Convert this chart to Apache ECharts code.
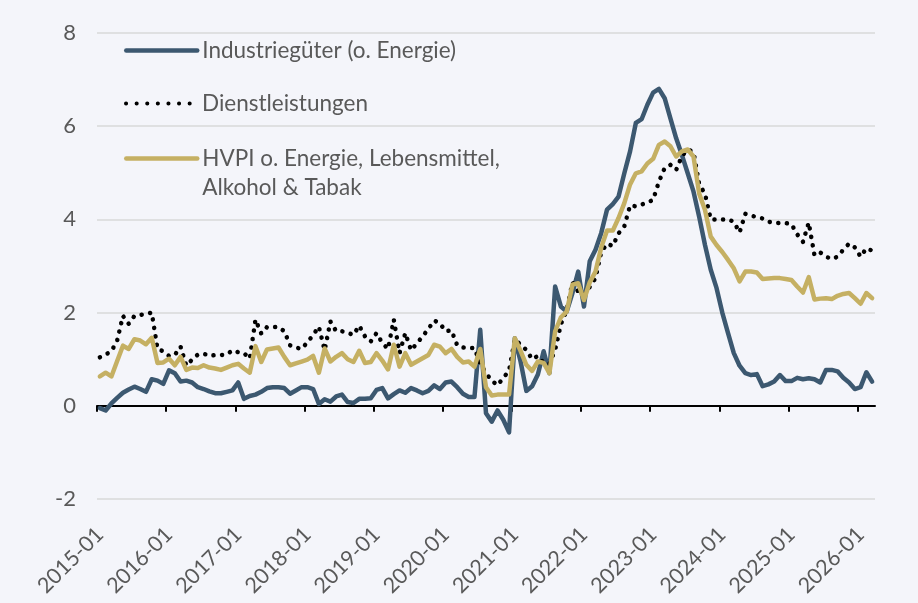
<!DOCTYPE html>
<html>
<head>
<meta charset="utf-8">
<script src="https://cdn.jsdelivr.net/npm/echarts@6/dist/echarts.min.js"></script>
<style>
html, body { margin: 0; padding: 0; background: #F4F5FA; }
#chart { width: 918px; height: 603px; }
</style>
</head>
<body>
<div id="chart"></div>
<script>
// Monthly categories 2015-01 .. 2026-03
const months = [];
for (let y = 2015; y <= 2026; y++) {
  for (let m = 1; m <= 12; m++) {
    if (y === 2026 && m > 3) break;
    months.push(y + '-' + String(m).padStart(2, '0'));
  }
}
// tick marks at the start of every year (category boundaries)
const yearTickPositions = [];
months.forEach(function (m, i) { if (m.slice(5) === '01') yearTickPositions.push(i); });

const seriesNames = [
  'Industriegüter (o. Energie)',
  'Dienstleistungen',
  'HVPI o. Energie, Lebensmittel,\nAlkohol & Tabak'
];

const yTicks = [-2, 0, 2, 4, 6, 8];

// Industriegüter (o. Energie), % y/y
const industrialGoods = [
  -0.05, -0.1, 0.05, 0.17, 0.28, 0.35, 0.41, 0.36, 0.3, 0.57, 0.54, 0.47,
  0.76, 0.7, 0.52, 0.54, 0.5, 0.4, 0.36, 0.31, 0.27, 0.27, 0.3, 0.33,
  0.5, 0.15, 0.21, 0.24, 0.3, 0.38, 0.4, 0.4, 0.38, 0.26, 0.33, 0.4,
  0.4, 0.36, 0.04, 0.14, 0.09, 0.2, 0.24, 0.08, 0.06, 0.15, 0.15, 0.16,
  0.34, 0.38, 0.16, 0.25, 0.33, 0.28, 0.38, 0.33, 0.27, 0.32, 0.44, 0.36,
  0.5, 0.52, 0.4, 0.26, 0.19, 0.19, 1.63, -0.16, -0.34, -0.1, -0.3, -0.57,
  1.45, 0.95, 0.32, 0.42, 0.67, 1.17, 0.7, 2.56, 2.13, 2.02, 2.42, 2.88,
  2.13, 3.1, 3.35, 3.71, 4.21, 4.33, 4.49, 4.99, 5.46, 6.07, 6.15, 6.46,
  6.72, 6.8, 6.6, 6.17, 5.74, 5.38, 4.99, 4.6, 4.05, 3.45, 2.92, 2.53,
  2.0, 1.56, 1.13, 0.86, 0.7, 0.66, 0.68, 0.42, 0.46, 0.52, 0.66, 0.53,
  0.53, 0.6, 0.57, 0.59, 0.57, 0.5, 0.77, 0.77, 0.74, 0.6, 0.5, 0.36,
  0.4, 0.72, 0.52
];

// Dienstleistungen, % y/y
const services = [
  1.04, 1.1, 1.17, 1.4, 1.93, 1.76, 1.93, 1.95, 1.97, 2.0, 1.22, 1.17,
  1.07, 1.09, 1.27, 0.86, 0.99, 1.1, 1.12, 1.07, 1.09, 1.09, 1.1, 1.19,
  1.15, 1.13, 1.01, 1.85, 1.55, 1.69, 1.69, 1.69, 1.6, 1.3, 1.25, 1.22,
  1.36, 1.52, 1.7, 1.19, 1.81, 1.6, 1.6, 1.57, 1.52, 1.72, 1.49, 1.38,
  1.56, 1.35, 1.22, 1.85, 1.13, 1.56, 1.19, 1.34, 1.49, 1.65, 1.83, 1.77,
  1.6, 1.62, 1.3, 1.25, 1.24, 1.24, 0.9, 0.7, 0.54, 0.44, 0.6, 0.75,
  1.43, 1.31, 1.2, 1.0, 1.07, 0.92, 0.9, 1.2, 1.75, 2.05, 2.65, 2.45,
  2.38, 2.55, 2.74, 3.3, 3.48, 3.43, 3.7, 3.85, 4.3, 4.28, 4.32, 4.36,
  4.42, 4.81, 5.1, 5.17, 5.06, 5.36, 5.5, 5.45, 4.75, 4.55, 4.0, 4.0,
  4.0, 4.0, 3.95, 3.72, 4.12, 4.08, 4.05, 4.02, 3.95, 3.93, 3.92, 3.92,
  3.9, 3.68, 3.52, 3.93, 3.23, 3.29, 3.2, 3.15, 3.2, 3.35, 3.48, 3.4,
  3.2, 3.38, 3.33
];

// HVPI o. Energie, Lebensmittel, Alkohol & Tabak, % y/y
const coreHicp = [
  0.63, 0.71, 0.63, 0.96, 1.29, 1.22, 1.43, 1.4, 1.32, 1.46, 0.92, 0.93,
  1.01, 0.87, 1.05, 0.77, 0.82, 0.81, 0.87, 0.82, 0.8, 0.77, 0.82, 0.87,
  0.9, 0.8, 0.71, 1.28, 0.94, 1.21, 1.23, 1.25, 1.05, 0.87, 0.91, 0.95,
  0.99, 1.07, 0.71, 1.23, 0.95, 1.05, 1.13, 1.0, 0.94, 1.18, 0.92, 0.94,
  1.13, 0.97, 0.78, 1.31, 0.84, 1.13, 0.88, 0.95, 1.02, 1.09, 1.31, 1.27,
  1.13, 1.22, 1.05, 0.93, 0.95, 0.84, 1.22, 0.4, 0.22, 0.24, 0.24, 0.24,
  1.45, 1.18, 0.88, 0.75, 0.95, 0.92, 0.7, 1.6, 1.9, 2.02, 2.6, 2.63,
  2.27, 2.65, 2.88, 3.4, 3.76, 3.76, 4.03, 4.35, 4.75, 4.99, 5.03, 5.2,
  5.3, 5.6, 5.67, 5.57, 5.35, 5.46, 5.5, 5.35, 4.55, 4.2, 3.63, 3.45,
  3.3, 3.13, 2.95, 2.67, 2.88, 2.88, 2.86, 2.72, 2.73, 2.74, 2.74, 2.72,
  2.7, 2.56, 2.43, 2.76, 2.28, 2.3, 2.31, 2.29, 2.36, 2.4, 2.42, 2.31,
  2.19, 2.42, 2.31
];

const FONT = 'Lato';
const TEXT_COLOR = '#595959';
const BLUE = '#3C5870';
const GOLD = '#C5B063';

const legendBase = {
  left: 124,
  orient: 'vertical',
  itemWidth: 71,
  itemHeight: 14,
  padding: 0,
  selectedMode: false,
  itemStyle: { opacity: 0 },
  lineStyle: { width: 4.5, cap: 'round' },
  textStyle: { fontSize: 22.5, lineHeight: 29, color: TEXT_COLOR, fontFamily: FONT }
};

const chart = echarts.init(document.getElementById('chart'), null, { renderer: 'canvas' });
chart.setOption({
  backgroundColor: '#F4F5FA',
  animation: false,
  grid: { left: 97, right: 43, top: 33, bottom: 104, containLabel: false },
  legend: [
    Object.assign({}, legendBase, { top: 36, data: [seriesNames[0]] }),
    Object.assign({}, legendBase, {
      top: 89,
      data: [seriesNames[1]],
      lineStyle: { width: 4, cap: 'round', type: [0.1, 10.5] }
    }),
    Object.assign({}, legendBase, {
      top: 115,
      data: [seriesNames[2]],
      formatter: function (name) { return '\n' + name; }
    })
  ],
  xAxis: [
    {
      type: 'category',
      data: months,
      boundaryGap: true,
      position: 'bottom',
      axisLine: { show: false, onZero: false },
      axisTick: { show: false },
      splitLine: { show: false },
      axisLabel: { interval: 11, rotate: 45, margin: 32, fontSize: 21.5, color: TEXT_COLOR, fontFamily: FONT }
    },
    {
      type: 'value',
      min: 0,
      max: months.length,
      interval: 12,
      position: 'bottom',
      axisLine: { show: true, onZero: true, lineStyle: { color: '#000000', width: 2 } },
      axisTick: { show: true, length: 6, customValues: yearTickPositions, lineStyle: { color: '#000000', width: 2 } },
      axisLabel: { show: false },
      splitLine: { show: false }
    }
  ],
  yAxis: {
    type: 'value',
    min: yTicks[0],
    max: yTicks[yTicks.length - 1],
    interval: 2,
    axisLine: { show: false },
    axisTick: { show: false },
    axisLabel: { fontSize: 22, color: TEXT_COLOR, fontFamily: FONT, margin: 21 },
    splitLine: { lineStyle: { color: '#D9D9D9', width: 1.5 } }
  },
  series: [
    {
      name: seriesNames[0],
      type: 'line',
      data: industrialGoods,
      symbol: 'none',
      lineStyle: { color: BLUE, width: 4.5, cap: 'round', join: 'round' },
      itemStyle: { color: BLUE },
      z: 3
    },
    {
      name: seriesNames[1],
      type: 'line',
      data: services,
      symbol: 'none',
      lineStyle: { color: '#000000', width: 4.5, type: [0.1, 8.5], cap: 'round', join: 'round' },
      itemStyle: { color: '#000000' },
      z: 4
    },
    {
      name: seriesNames[2],
      type: 'line',
      data: coreHicp,
      symbol: 'none',
      lineStyle: { color: GOLD, width: 4.5, cap: 'round', join: 'round' },
      itemStyle: { color: GOLD },
      z: 5
    }
  ]
});
</script>
</body>
</html>
